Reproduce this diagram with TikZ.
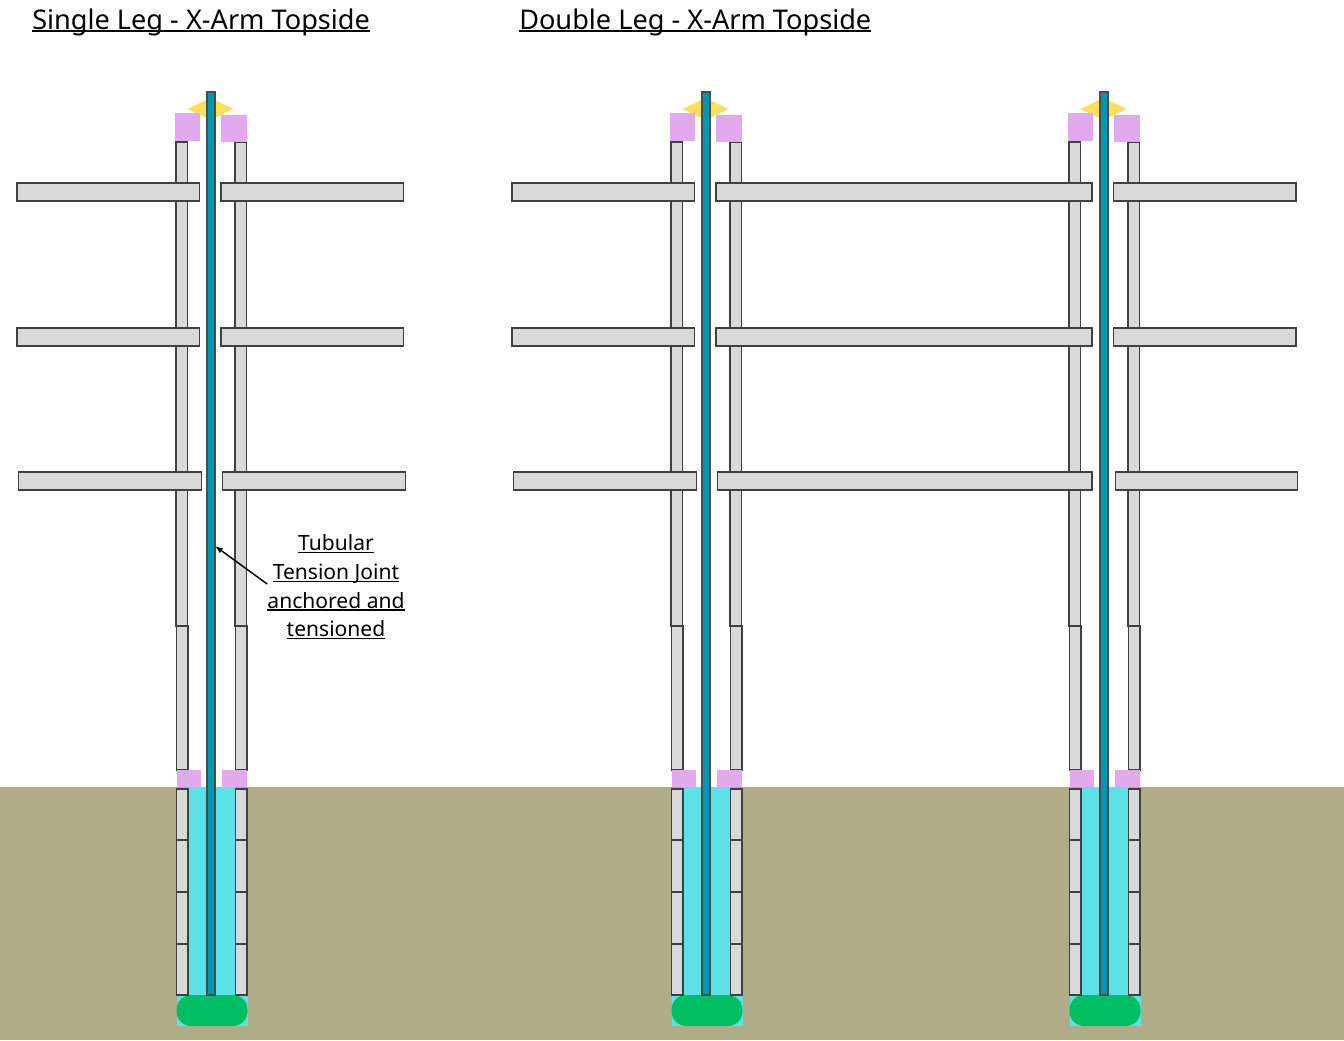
\documentclass[tikz,border=0pt]{standalone}
\usepackage{fontspec}
\usetikzlibrary{arrows.meta}
\setmainfont{Noto Sans}
\definecolor{ground}{HTML}{B0AC88}
\definecolor{grout}{HTML}{5CE1E6}
\definecolor{tendon}{HTML}{0097B2}
\definecolor{bulb}{HTML}{00BF63}
\definecolor{clamp}{HTML}{E2A9EE}
\definecolor{capyellow}{HTML}{FFDE59}
\definecolor{steel}{HTML}{D9D9D9}
\newsavebox\ulbox
\newcommand{\ultext}[1]{\sbox\ulbox{#1}\rlap{\rule[-1.9pt]{\wd\ulbox}{1pt}}\usebox\ulbox}
\tikzset{
  member/.style={draw=black!75, fill=steel, line width=0.85pt},
  pad/.style={fill=clamp},
  joint/.style={draw=black!70, fill=tendon, line width=0.85pt},
  heading/.style={inner sep=0pt, anchor=base west, font=\fontsize{20.35}{25}\selectfont},
  note/.style={inner sep=0pt, align=center, font=\fontsize{15.8}{21.4}\selectfont}
}
\begin{document}
\begin{tikzpicture}[x=0.75pt,y=-0.75pt]
    \useasboundingbox (0,0) rectangle (1344,1040);
    \fill[ground] (0,787) rectangle (1344,1040);
    % legs
    \foreach \dx in {-0.5,494.5,892.5} {
      \begin{scope}[shift={(\dx,0)}]
        \fill[grout] (188,787) rectangle (236,995);
        \fill[grout] (177,995) rectangle (248,1026);
        \fill[bulb, rounded corners=11pt] (177,995) rectangle (248,1026);
        \draw[member] (176.5,142) rectangle (188,626);
        \draw[member] (177,626) rectangle (188.5,770);
        \draw[member] (235.5,142) rectangle (247,626);
        \draw[member] (236,626) rectangle (247.5,770);
        \foreach \ya/\yb in {789/840,840/892,892/944,944/995} {
          \draw[member] (177,\ya) rectangle (188.5,\yb);
          \draw[member] (236,\ya) rectangle (247.5,\yb);
        }
        \fill[capyellow] (188,109) -- (211,98) -- (234,109) -- (211,120) -- cycle;
        \fill[pad] (175.5,113) rectangle (200.5,141);
        \fill[pad] (221.5,115) rectangle (247.5,142);
        \fill[pad] (177.5,770) rectangle (201.5,787);
        \fill[pad] (222.5,770) rectangle (247.5,787);
        \draw[joint] (207.5,92) rectangle (215.5,995);
      \end{scope}
    }
    % arms
    \foreach \ya/\yb/\xs in {183/201/0,328/346/0,472/490/1.7} {
      \draw[member] (17+\xs,\ya) rectangle (199.5+\xs,\yb);
      \draw[member] (221+\xs,\ya) rectangle (403.5+\xs,\yb);
      \draw[member] (512+\xs,\ya) rectangle (694.5+\xs,\yb);
      \draw[member] (716+\xs,\ya) rectangle (1092,\yb);
      \draw[member] (1113.5+\xs,\ya) rectangle (1296+\xs,\yb);
    }
    % labels
    \node[heading] (single) at (32,29) {\ultext{Single Leg - X-Arm Topside}};
    \node[heading] (double) at (519,29) {\ultext{Double Leg - X-Arm Topside}};
    \node[note] (tensionnote) at (336,587) {\ultext{Tubular}\\\ultext{Tension Joint}\\\ultext{anchored and}\\\ultext{tensioned}};
    \coordinate (jointtip) at (215,546);
    \draw[-{Latex[length=6pt,width=4.5pt]}, line width=1.1pt] ([yshift=2.25pt]tensionnote.west) -- (jointtip);
\end{tikzpicture}
\end{document}
